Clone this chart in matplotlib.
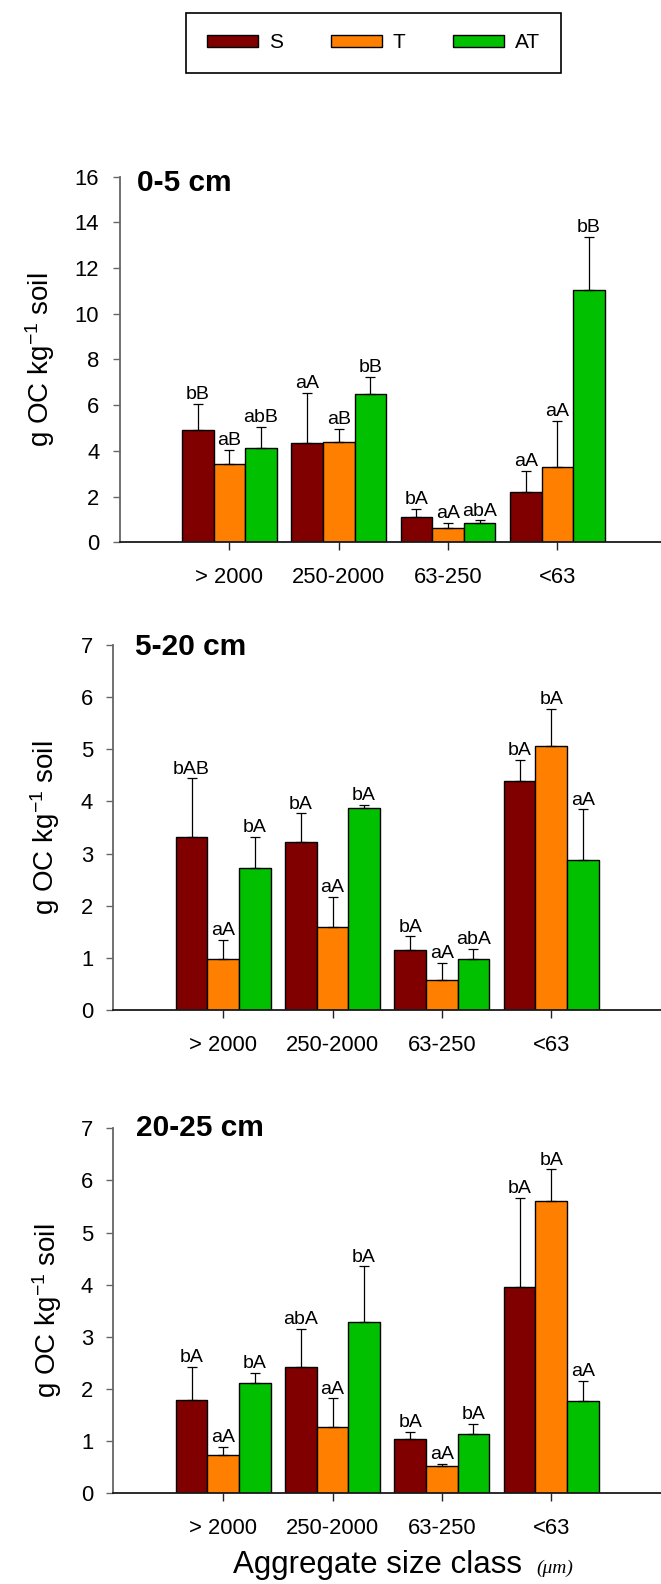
import matplotlib
matplotlib.use('Agg')
import matplotlib.pyplot as plt
from matplotlib.patches import Patch
import numpy as np

plt.rcParams['font.family'] = ['Liberation Sans', 'DejaVu Sans']
plt.rcParams['mathtext.fontset'] = 'custom'
plt.rcParams['mathtext.rm'] = 'Liberation Sans'
plt.rcParams['mathtext.it'] = 'Liberation Sans:italic'
plt.rcParams['mathtext.bf'] = 'Liberation Sans:bold'

# ---------------- data ----------------
categories = ['> 2000', '250-2000', '63-250', '<63']
treatments = ['S', 'T', 'AT']
colors = ['#800000', '#FF8000', '#00C000']
depths = ['0-5 cm', '5-20 cm', '20-25 cm']

# 0-5 cm
s_0_5 = [4.93, 4.35, 1.12, 2.20]
t_0_5 = [3.42, 4.38, 0.61, 3.31]
at_0_5 = [4.12, 6.47, 0.85, 11.05]
s_0_5_err = [1.13, 2.19, 0.33, 0.91]
t_0_5_err = [0.62, 0.58, 0.24, 2.00]
at_0_5_err = [0.92, 0.77, 0.10, 2.31]
s_0_5_lab = ['bB', 'aA', 'bA', 'aA']
t_0_5_lab = ['aB', 'aB', 'aA', 'aA']
at_0_5_lab = ['abB', 'bB', 'abA', 'bB']

# 5-20 cm
s_5_20 = [3.31, 3.23, 1.16, 4.40]
t_5_20 = [0.97, 1.59, 0.57, 5.07]
at_5_20 = [2.73, 3.88, 0.97, 2.87]
s_5_20_err = [1.13, 0.54, 0.25, 0.40]
t_5_20_err = [0.38, 0.58, 0.33, 0.71]
at_5_20_err = [0.59, 0.06, 0.20, 0.98]
s_5_20_lab = ['bAB', 'bA', 'bA', 'bA']
t_5_20_lab = ['aA', 'aA', 'aA', 'bA']
at_5_20_lab = ['bA', 'bA', 'abA', 'aA']

# 20-25 cm
s_20_25 = [1.78, 2.43, 1.05, 3.96]
t_20_25 = [0.735, 1.27, 0.52, 5.60]
at_20_25 = [2.12, 3.29, 1.13, 1.77]
s_20_25_err = [0.64, 0.73, 0.13, 1.70]
t_20_25_err = [0.16, 0.55, 0.04, 0.61]
at_20_25_err = [0.19, 1.06, 0.20, 0.39]
s_20_25_lab = ['bA', 'abA', 'bA', 'bA']
t_20_25_lab = ['aA', 'aA', 'aA', 'bA']
at_20_25_lab = ['bA', 'bA', 'bA', 'aA']

y_max = [16, 7, 7]
y_step = [2, 1, 1]

panel_values = [(s_0_5, t_0_5, at_0_5), (s_5_20, t_5_20, at_5_20), (s_20_25, t_20_25, at_20_25)]
panel_errors = [(s_0_5_err, t_0_5_err, at_0_5_err), (s_5_20_err, t_5_20_err, at_5_20_err),
                (s_20_25_err, t_20_25_err, at_20_25_err)]
panel_labels = [(s_0_5_lab, t_0_5_lab, at_0_5_lab), (s_5_20_lab, t_5_20_lab, at_5_20_lab),
                (s_20_25_lab, t_20_25_lab, at_20_25_lab)]

# ---------------- layout (pixels) ----------------
W, H = 661, 1584
fig = plt.figure(figsize=(W / 100, H / 100), dpi=100)

# (left axis x, y of zero line, y of top tick)
geom = [(119.5, 542.2, 176.7), (113.3, 1010.0, 645.0), (113.3, 1493.3, 1128.3)]
title_pos = [(137.0, 183.3), (135.0, 647.2), (136.5, 1127.5)]
ylab_x = [40.0, 45.3, 47.4]
group_space = 109.33   # px between group centres
first_off = 1.005      # distance axis -> first group in group units
bw = 0.289
extra = 8.0            # px the axis runs past the right figure edge

x = np.arange(len(categories))
ylabel = 'g OC kg$^{-1}$ soil'

for i in range(3):
    left, zero, top = geom[i]
    ax = fig.add_axes([left / W, 1 - zero / H, (W - left + extra) / W, (zero - top) / H])
    xr = (W - left + extra) / group_space - first_off
    ax.set_xlim(-first_off, xr)
    ax.set_ylim(0, y_max[i])

    for j in range(3):
        xpos = x + (j - 1) * bw
        vals = panel_values[i][j]
        errs = panel_errors[i][j]
        ax.bar(xpos, vals, width=bw, color=colors[j], edgecolor='black', linewidth=1.0, zorder=2)
        ax.errorbar(xpos, vals, yerr=[np.zeros(len(vals)), errs], fmt='none', ecolor='black',
                    elinewidth=0.9, capsize=3.6, capthick=0.9, zorder=3)
        for k in range(len(vals)):
            ax.annotate(panel_labels[i][j][k], (xpos[k], vals[k] + errs[k]), xytext=(0, 0.5),
                        textcoords='offset points', ha='center', va='bottom', fontsize=14,
                        color='black', zorder=4)

    ax.set_xticks(x)
    ax.set_xticklabels(categories)
    ax.set_yticks(np.arange(0, y_max[i] + 1, y_step[i]))
    ax.tick_params(axis='x', length=6, width=1.0, color='#222222', pad=12, labelsize=15.8)
    ax.tick_params(axis='y', length=5, width=1.0, color='#666666', pad=9.5, labelsize=15.8)
    for s in ['top', 'right']:
        ax.spines[s].set_visible(False)
    ax.spines['left'].set_color('#666666')
    ax.spines['left'].set_linewidth(1.3)
    ax.spines['bottom'].set_color('#1a1a1a')
    ax.spines['bottom'].set_linewidth(1.3)

    tx, ty = title_pos[i]
    fig.text(tx / W, 1 - ty / H, depths[i], fontsize=21.5, fontweight='bold', ha='left', va='center')
    fig.text(ylab_x[i] / W, 1 - ((zero + top) / 2) / H, ylabel, rotation=90, ha='center',
             va='center', fontsize=20)

# x label
fig.text(233.3 / W, 1 - 1573.3 / H, 'Aggregate size class', fontsize=22.5, ha='left', va='baseline')
fig.text(536.7 / W, 1 - 1573.3 / H, '(μm)', fontsize=14, ha='left', va='baseline',
         family=['Liberation Serif', 'DejaVu Serif'], style='italic')

# legend
handles = [Patch(facecolor=c, edgecolor='black', linewidth=1.0) for c in colors]
leg = fig.legend(handles, treatments, loc='center', bbox_to_anchor=(373.7 / W, 1 - 43 / H), ncol=3,
                 fontsize=15, frameon=True, fancybox=False, edgecolor='black', framealpha=1,
                 handlelength=2.45, handleheight=0.53, handletextpad=0.54, columnspacing=2.27,
                 borderpad=1.0)
leg.get_frame().set_linewidth(1.2)

fig.savefig('out.png', dpi=100)
